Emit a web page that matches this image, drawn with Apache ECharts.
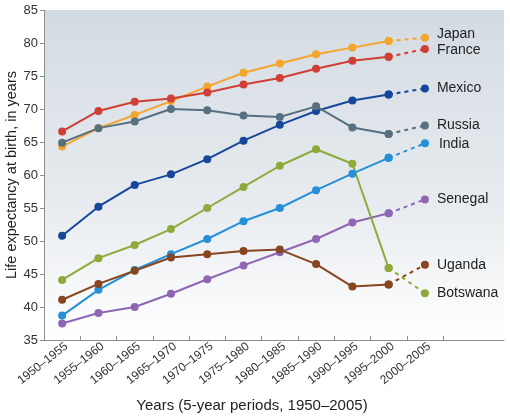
<!DOCTYPE html>
<html>
<head>
<meta charset="utf-8">
<script src="https://cdn.jsdelivr.net/npm/echarts@6/dist/echarts.min.js"></script>
<style>html,body{margin:0;padding:0;background:#fff;}#c{width:510px;height:418px;}</style>
</head>
<body>
<div id="c"></div>
<script>
const categories = ['1950–1955','1955–1960','1960–1965','1965–1970','1970–1975','1975–1980','1980–1985','1985–1990','1990–1995','1995–2000','2000–2005'];
const yTicks = [35,40,45,50,55,60,65,70,75,80,85];

const japan    = [64.3,67.1,69.1,71.2,73.4,75.5,76.9,78.3,79.3,80.3,80.8];
const france   = [66.6,69.7,71.1,71.6,72.5,73.7,74.7,76.1,77.3,77.9,79.1];
const mexico   = [50.8,55.2,58.5,60.1,62.4,65.2,67.6,69.7,71.3,72.2,73.1];
const russia   = [64.9,67.1,68.1,70.0,69.8,69.0,68.8,70.4,67.2,66.2,67.5];
const india    = [38.7,42.6,45.6,48.0,50.3,53.0,55.0,57.7,60.2,62.6,64.8];
const senegal  = [37.5,39.1,40.0,42.0,44.2,46.3,48.3,50.3,52.8,54.2,56.3];
const uganda   = [41.1,43.5,45.5,47.5,48.0,48.5,48.7,46.5,43.1,43.4,46.4];
const botswana = [44.1,47.4,49.4,51.8,55.0,58.2,61.4,63.9,61.7,45.9,42.1];

const countries = [
  {name:'Japan',    data:japan,    color:'#F5A52B', off:[0,-4]},
  {name:'France',   data:france,   color:'#CF3F35', off:[0,1]},
  {name:'Mexico',   data:mexico,   color:'#17479A', off:[0,0]},
  {name:'Russia',   data:russia,   color:'#56707F', off:[0,0]},
  {name:'India',    data:india,    color:'#2590D8', off:[2,1]},
  {name:'Senegal',  data:senegal,  color:'#8D66B4', off:[0,0]},
  {name:'Uganda',   data:uganda,   color:'#87461F', off:[0,0]},
  {name:'Botswana', data:botswana, color:'#8DAA3A', off:[0,0]}
];

const series = [];
countries.forEach(c => {
  const pts = c.data.map((v,i) => [i+0.5, v]);
  series.push({
    type:'line', name:c.name, data:pts.slice(0,10), symbol:'circle', symbolSize:8,
    lineStyle:{color:c.color,width:2}, itemStyle:{color:c.color}, z:3, silent:true
  });
  series.push({
    type:'line', name:c.name+' dashed', data:pts.slice(9,11), symbol:'circle', symbolSize:8,
    lineStyle:{color:c.color,width:2,type:[4,4]}, itemStyle:{color:c.color}, z:2, silent:true,
    label:{show:true, position:'right', distance:8, offset:c.off, fontSize:14, color:'#222', fontFamily:'Liberation Sans, Arial, sans-serif',
      formatter: p => p.dataIndex === 1 ? c.name : ''}
  });
});

const chart = echarts.init(document.getElementById('c'));
chart.setOption({
  animation:false,
  textStyle:{fontFamily:'Liberation Sans, Arial, sans-serif'},
  grid:{left:44, top:10, right:6, bottom:78, show:true, borderWidth:0, containLabel:false, outerBoundsMode:'none',
    backgroundColor:{type:'linear',x:0,y:0,x2:0,y2:1,colorStops:[{offset:0,color:'#D3DBE2'},{offset:0.6,color:'#E8ECF0'},{offset:1,color:'#FFFFFF'}]}},
  xAxis:{
    type:'value', min:0, max:12.68, interval:1,
    name:'Years (5-year periods, 1950–2005)', nameLocation:'middle', nameGap:58, nameMoveOverlap:false,
    nameTextStyle:{fontSize:15, color:'#222', padding:[0,44,0,0]},
    axisLine:{show:true, lineStyle:{color:'#8a8f94', width:1}},
    axisTick:{show:true, length:4, inside:true, customValues:[0,1,2,3,4,5,6,7,8,9,10,11], lineStyle:{color:'#8a8f94'}},
    axisLabel:{fontSize:12, color:'#333', rotate:38, margin:5, hideOverlap:false, customValues:categories.map((c,i)=>i+0.62),
      formatter: v => categories[Math.floor(v)] || ''},
    splitLine:{show:false}
  },
  yAxis:{
    type:'value', min:35, max:85, interval:5,
    name:'Life expectancy at birth, in years', nameLocation:'middle', nameGap:25, nameMoveOverlap:false,
    nameTextStyle:{fontSize:14.5, color:'#222'},
    axisLine:{show:true, lineStyle:{color:'#8a8f94', width:1}},
    axisTick:{show:true, length:4, lineStyle:{color:'#8a8f94'}},
    axisLabel:{fontSize:13, color:'#333', margin:6,
      formatter: v => yTicks.includes(v) ? String(v) : ''},
    splitLine:{show:false}
  },
  series: series
});
</script>
</body>
</html>
